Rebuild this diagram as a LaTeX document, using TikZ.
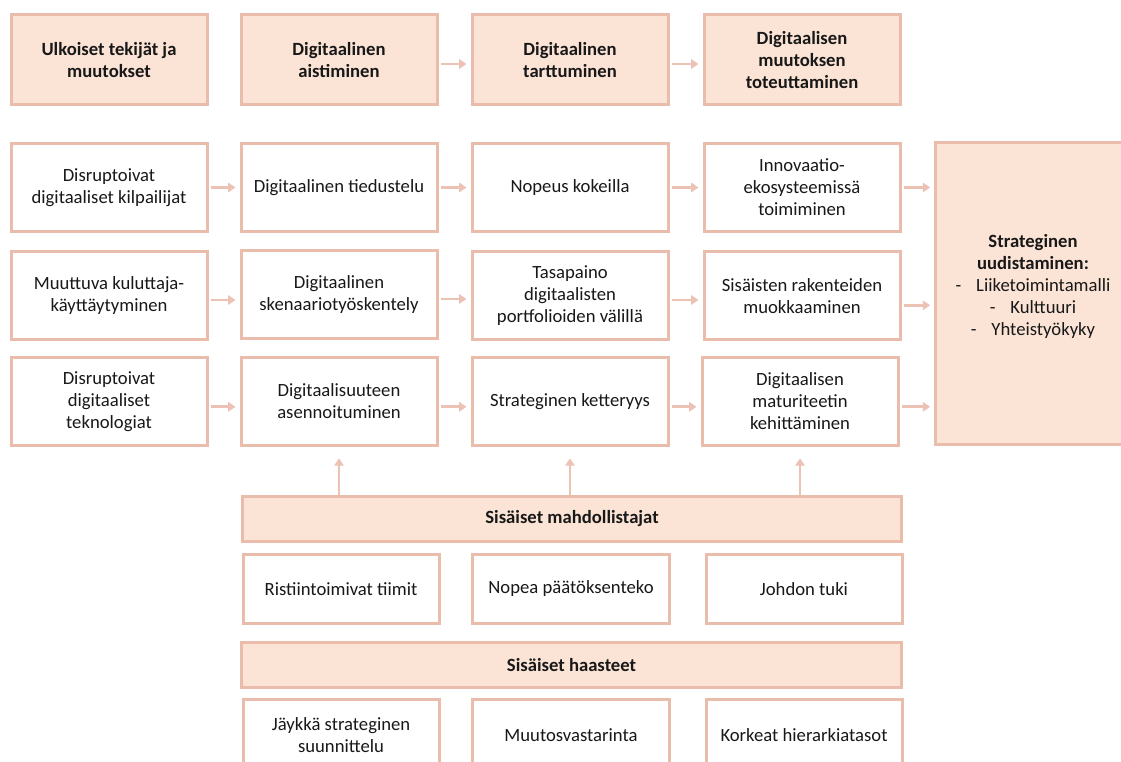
\documentclass[tikz,border=0pt]{standalone}
\usepackage{fontspec}
\setmainfont{Carlito}
\usetikzlibrary{arrows.meta}
\definecolor{bord}{RGB}{234,188,172}
\definecolor{peach}{RGB}{251,228,214}
\definecolor{arrc}{RGB}{236,194,180}
\definecolor{ink}{RGB}{24,24,24}
\tikzset{
  box/.style={draw=bord, line width=2.25pt, fill=white, align=center,
    text=ink, inner sep=0pt, font=\fontsize{14pt}{16.5pt}\selectfont},
  headbox/.style={box, fill=peach, font=\fontsize{14pt}{16.5pt}\selectfont\bfseries},
  colbox/.style={box, minimum width=147pt, minimum height=66pt},
  arr/.style={draw=arrc, line width=2.2pt,
    -{Triangle[length=5.5pt,width=7pt]}, shorten <=1.5pt, shorten >=3pt},
  uparr/.style={arr, shorten <=0pt, shorten >=8.5pt}
}
\begin{document}
\begin{tikzpicture}[x=0.75pt,y=-0.75pt]
\useasboundingbox (0,0) rectangle (1121,762);
\clip (0,0) rectangle (1121,762);
\fill[white] (0,0) rectangle (1121,762);

% column headers
\node[headbox, minimum width=147pt, minimum height=67.5pt] (h1) at (109,60) {Ulkoiset tekijät ja\\muutokset};
\node[headbox, minimum width=147pt, minimum height=67.5pt] (h2) at (339,60) {Digitaalinen\\aistiminen};
\node[headbox, minimum width=147pt, minimum height=67.5pt] (h3) at (570,60) {Digitaalinen\\tarttuminen};
\node[headbox, minimum width=147pt, minimum height=67.5pt] (h4) at (802,60) {Digitaalisen\\muutoksen\\toteuttaminen};

% first row
\node[colbox] (a1) at (109,187.5) {Disruptoivat\\digitaaliset kilpailijat};
\node[colbox] (a2) at (339,187.5) {Digitaalinen tiedustelu};
\node[colbox] (a3) at (570,187.5) {Nopeus kokeilla};
\node[colbox] (a4) at (802,187.5) {Innovaatio-\\ekosysteemissä\\toimiminen};

% second row
\node[colbox] (b1) at (109,296) {Muuttuva kuluttaja-\\käyttäytyminen};
\node[colbox] (b2) at (339,295) {Digitaalinen\\skenaariotyöskentely};
\node[colbox] (b3) at (570,296) {Tasapaino\\digitaalisten\\portfolioiden välillä};
\node[colbox] (b4) at (802,296) {Sisäisten rakenteiden\\muokkaaminen};

% third row
\node[colbox] (c1) at (109,401.5) {Disruptoivat\\digitaaliset\\teknologiat};
\node[colbox] (c2) at (339,401.5) {Digitaalisuuteen\\asennoituminen};
\node[colbox] (c3) at (570,401.5) {Strateginen ketteryys};
\node[colbox] (c4) at (800,401.5) {Digitaalisen\\maturiteetin\\kehittäminen};

% outcome
\node[box, fill=peach, minimum width=146pt, minimum height=226pt] (out) at (1033,293.5) {};
\node[text=ink, align=center, inner sep=0pt, font=\fontsize{14pt}{16.5pt}\selectfont] (outtxt) at ([yshift=5pt]out.center)
  {{\bfseries Strateginen}\\{\bfseries uudistaminen:}\\-\hspace{0.8em}Liiketoimintamalli\\-\hspace{0.8em}Kulttuuri\\-\hspace{0.8em}Yhteistyökyky};

% internal enablers
\node[headbox, minimum width=494pt, minimum height=34pt] (en) at (572,519) {Sisäiset mahdollistajat};
\node[box, minimum width=147pt, minimum height=52pt] (e1) at (341,589) {Ristiintoimivat tiimit};
\node[box, minimum width=148pt, minimum height=52pt] (e2) at (571,589) {Nopea päätöksenteko};
\node[box, minimum width=147pt, minimum height=52pt] (e3) at (804,589) {Johdon tuki};

% internal challenges
\node[headbox, minimum width=495pt, minimum height=34pt] (ch) at (571.5,665) {Sisäiset haasteet};
\node[box, minimum width=147pt, minimum height=54pt] (k1) at (341,735) {Jäykkä strateginen\\suunnittelu};
\node[box, minimum width=148pt, minimum height=54pt] (k2) at (571,735) {Muutosvastarinta};
\node[box, minimum width=147pt, minimum height=54pt] (k3) at (804,735) {Korkeat hierarkiatasot};

% header flow
\draw[arr] ([yshift=-3pt]h2.east) -- ([yshift=-3pt]h3.west);
\draw[arr] ([yshift=-3pt]h3.east) -- ([yshift=-3pt]h4.west);

% row flows
\foreach \p/\q in {a1/a2,a2/a3,a3/a4}
  \draw[arr] (\p.east) -- (\q.west);
\foreach \p/\q in {b1/b2,b2/b3,b3/b4}
  \draw[arr] ([yshift=-3pt]\p.east) -- ([yshift=-3pt]\p.east -| \q.west);
\foreach \p/\q in {c1/c2,c2/c3,c3/c4}
  \draw[arr] ([yshift=-4pt]\p.east) -- ([yshift=-4pt]\p.east -| \q.west);

% into the outcome box
\draw[arr] (a4.east) -- (a4.east -| out.west);
\draw[arr] ([yshift=-7pt]b4.east) -- ([yshift=-7pt]b4.east -| out.west);
\draw[arr] ([yshift=-4pt]c4.east) -- ([yshift=-4pt]c4.east -| out.west);

% enablers support the third row
\draw[uparr] (en.north -| c2.south) -- (c2.south);
\draw[uparr] (en.north -| c3.south) -- (c3.south);
\draw[uparr] (en.north -| c4.south) -- (c4.south);
\end{tikzpicture}
\end{document}
